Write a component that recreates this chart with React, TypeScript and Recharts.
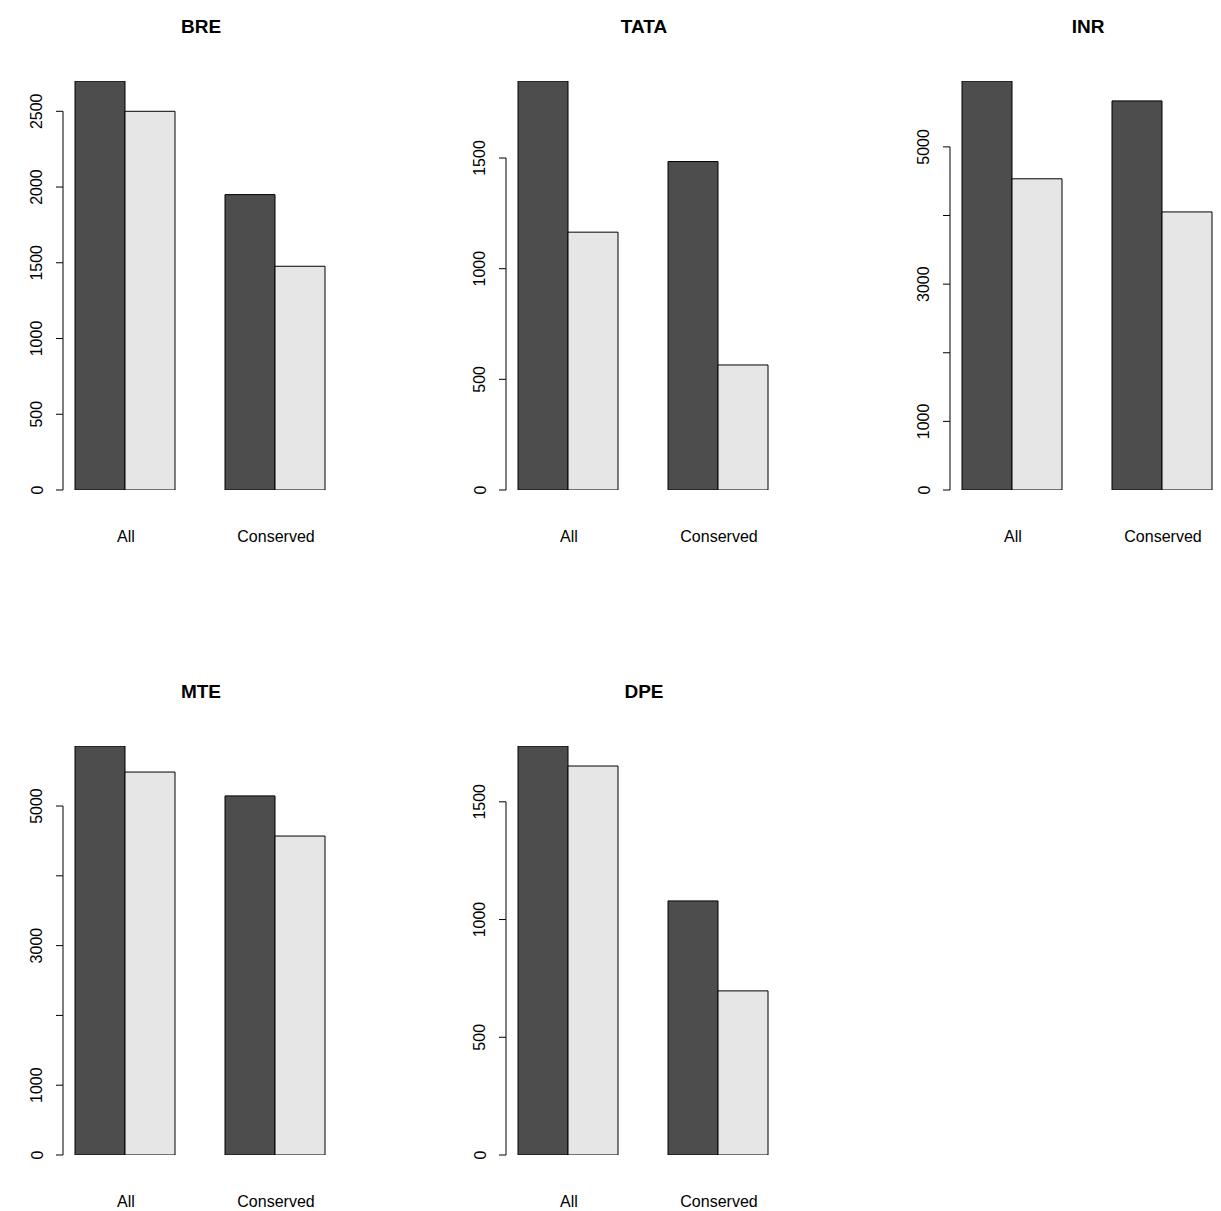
import React from 'react';
import { BarChart, Bar, XAxis, YAxis } from 'recharts';

const categories = ['All', 'Conserved'];
const titles = ['BRE', 'TATA', 'INR', 'MTE', 'DPE'];
const darkValues = [
  [2700, 1950],
  [1848, 1484],
  [5960, 5670],
  [5860, 5145],
  [1737, 1079],
];
const lightValues = [
  [2500, 1477],
  [1165, 565],
  [4535, 4052],
  [5487, 4570],
  [1652, 697],
];
const tickValues = [
  [0, 500, 1000, 1500, 2000, 2500],
  [0, 500, 1000, 1500],
  [0, 1000, 2000, 3000, 4000, 5000],
  [0, 1000, 2000, 3000, 4000, 5000],
  [0, 500, 1000, 1500],
];
const tickLabels = [
  ['0', '500', '1000', '1500', '2000', '2500'],
  ['0', '500', '1000', '1500'],
  ['0', '1000', '', '3000', '', '5000'],
  ['0', '1000', '', '3000', '', '5000'],
  ['0', '500', '1000', '1500'],
];

const FONT = 'Liberation Sans, Arial, Helvetica, sans-serif';
const TOP = 81;
const BOTTOM_Y = 490;

function Panel({ idx }: { idx: number }) {
  const data = categories.map((c, i) => ({ name: c, a: darkValues[idx][i], b: lightValues[idx][i] }));
  const ticks = tickValues[idx];
  const labels = tickLabels[idx];
  const step = ticks[1] - ticks[0];
  const maxV = Math.max(...darkValues[idx], ...lightValues[idx]);
  const YTick = (p: any) => {
    const { x, y, payload, index } = p;
    const v = payload.value;
    const ax = x + 13;
    const nextY = v > 0 ? y + (BOTTOM_Y - y) * (step / v) : y;
    return (
      <g>
        <line x1={ax - 7} x2={ax} y1={y} y2={y} stroke="#000" />
        {v > 0 && <line x1={ax} x2={ax} y1={y} y2={nextY} stroke="#000" />}
        <text x={x - 13} y={y} transform={`rotate(-90 ${x - 13} ${y})`} textAnchor="middle"
          dominantBaseline="central" fontSize={16} fontFamily={FONT} fill="#000">
          {labels[index] ?? ''}
        </text>
      </g>
    );
  };
  const XTick = (p: any) => (
    <text x={p.x + 1} y={BOTTOM_Y + 52} textAnchor="middle" fontSize={16} fontFamily={FONT} fill="#000">
      {p.payload.value}
    </text>
  );
  return (
    <BarChart width={407} height={605} data={data} margin={{ top: TOP, right: 57, bottom: 0, left: 0 }}
      barCategoryGap={25} barGap={0}>
      <XAxis dataKey="name" axisLine={false} tickLine={false} tickSize={0} tick={XTick} interval={0} height={115} />
      <YAxis type="number" domain={[0, maxV]} ticks={ticks} interval={0} width={50} axisLine={false}
        tickLine={false} tickSize={0} tickMargin={0} tick={YTick} allowDataOverflow />
      <Bar dataKey="a" fill="#4d4d4d" stroke="#000" strokeWidth={1} isAnimationActive={false} />
      <Bar dataKey="b" fill="#e6e6e6" stroke="#000" strokeWidth={1} isAnimationActive={false} />
    </BarChart>
  );
}

export default function App() {
  const pos = [[0, 0], [443, 0], [887, 0], [0, 665], [443, 665]];
  return (
    <div style={{ position: 'absolute', left: 0, top: 0, width: 1221, height: 1211, background: '#fff', overflow: 'hidden' }}>
      {titles.map((t, i) => (
        <div key={t} style={{ position: 'absolute', left: pos[i][0], top: pos[i][1], width: 407, height: 605 }}>
          <Panel idx={i} />
          <div style={{ position: 'absolute', left: 0, top: 15, width: 402, textAlign: 'center', fontFamily: FONT,
            fontWeight: 'bold', fontSize: 19, lineHeight: '24px' }}>{t}</div>
        </div>
      ))}
    </div>
  );
}
